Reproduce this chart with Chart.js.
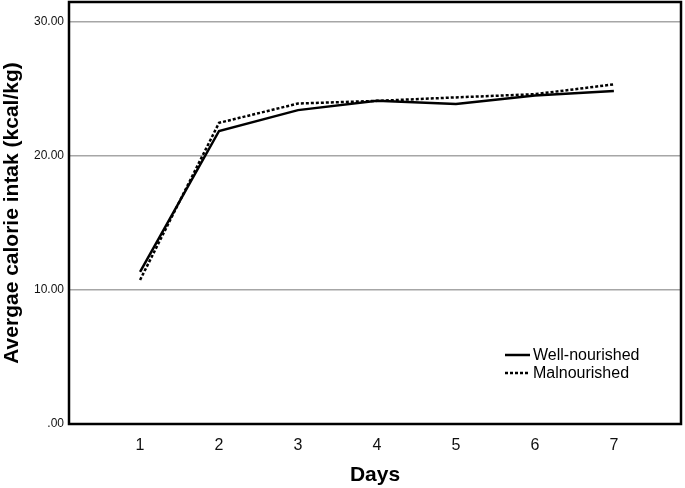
<!DOCTYPE html>
<html>
<head>
<meta charset="utf-8">
<script src="https://cdn.jsdelivr.net/npm/chart.js@4/dist/chart.umd.min.js"></script>
<style>
  html, body { margin: 0; padding: 0; background: #fff; }
  #wrap { width: 685px; height: 488px; }
</style>
</head>
<body>
<div id="wrap"><canvas id="c" width="685" height="488"></canvas></div>
<script>
const days = [1, 2, 3, 4, 5, 6, 7];
const wellNourished = [11.35, 21.87, 23.43, 24.12, 23.88, 24.52, 24.85];
const malnourished = [10.75, 22.48, 23.92, 24.12, 24.38, 24.62, 25.35];
const yTickValues = [0, 10, 20, 30];
const seriesLabels = ['Well-nourished', 'Malnourished'];

const FONT = '"Liberation Sans", Arial, sans-serif';

const toPoints = arr => days.map((d, i) => ({ x: d, y: arr[i] }));

const framePlugin = {
  id: 'frame',
  afterDraw(chart) {
    const { ctx, chartArea: a } = chart;
    ctx.save();
    ctx.strokeStyle = '#000';
    ctx.lineWidth = 2.5;
    ctx.strokeRect(a.left, a.top, a.right - a.left, a.bottom - a.top);
    ctx.restore();
  }
};

const legendPlugin = {
  id: 'insideLegend',
  afterDraw(chart) {
    const { ctx, chartArea: a } = chart;
    const x0 = a.left + 436, y0 = a.top + 353, rowH = 18;
    ctx.save();
    ctx.font = '16px ' + FONT;
    ctx.textBaseline = 'middle';
    ctx.fillStyle = '#000';
    chart.data.datasets.forEach((ds, i) => {
      const y = y0 + i * rowH;
      ctx.beginPath();
      ctx.strokeStyle = ds.borderColor;
      ctx.lineWidth = ds.borderWidth;
      ctx.setLineDash(ds.borderDash || []);
      ctx.moveTo(x0, y);
      ctx.lineTo(x0 + 25, y);
      ctx.stroke();
      ctx.setLineDash([]);
      ctx.fillText(ds.label, x0 + 28, y + 1);
    });
    ctx.restore();
  }
};

new Chart(document.getElementById('c'), {
  type: 'line',
  data: {
    datasets: [
      {
        label: seriesLabels[0],
        data: toPoints(wellNourished),
        borderColor: '#000',
        borderWidth: 2.5,
        pointRadius: 0,
        tension: 0,
        fill: false
      },
      {
        label: seriesLabels[1],
        data: toPoints(malnourished),
        borderColor: '#000',
        borderWidth: 2.5,
        borderDash: [3, 2],
        pointRadius: 0,
        tension: 0,
        fill: false
      }
    ]
  },
  options: {
    responsive: false,
    animation: false,
    devicePixelRatio: 1,
    layout: { padding: { left: 0, right: 4, top: 2, bottom: 0 } },
    plugins: {
      legend: { display: false },
      tooltip: { enabled: false }
    },
    scales: {
      x: {
        type: 'linear',
        min: 0.1,
        max: 7.85,
        afterBuildTicks(scale) {
          scale.ticks = days.map(v => ({ value: v }));
        },
        afterFit(scale) {
          scale.height = 64;
          scale.paddingLeft = 0;
          scale.paddingRight = 0;
        },
        grid: { display: false, drawTicks: false },
        border: { display: false },
        ticks: {
          padding: 12,
          color: '#111',
          font: { family: FONT, size: 16 },
          callback: v => String(v)
        },
        title: {
          display: true,
          text: 'Days',
          color: '#000',
          font: { family: FONT, size: 21, weight: 'bold' },
          padding: { top: 0, bottom: 0 }
        }
      },
      y: {
        min: 0,
        max: 31.5,
        afterBuildTicks(scale) {
          scale.ticks = yTickValues.map(v => ({ value: v }));
        },
        afterFit(scale) {
          scale.width = 69;
          scale.paddingTop = 0;
          scale.paddingBottom = 0;
        },
        grid: {
          color: ctx => (ctx.tick && ctx.tick.value === 0) ? 'rgba(0,0,0,0)' : '#a6a6a6',
          lineWidth: 1.5,
          drawTicks: false
        },
        border: { display: false },
        ticks: {
          padding: 5,
          color: '#111',
          font: { family: FONT, size: 12 },
          callback: v => v === 0 ? '.00' : v.toFixed(2)
        },
        title: {
          display: true,
          text: 'Avergae calorie intak (kcal/kg)',
          color: '#000',
          font: { family: FONT, size: 21, weight: 'bold' },
          padding: { top: 0, bottom: 0 }
        }
      }
    }
  },
  plugins: [framePlugin, legendPlugin]
});
</script>
</body>
</html>
